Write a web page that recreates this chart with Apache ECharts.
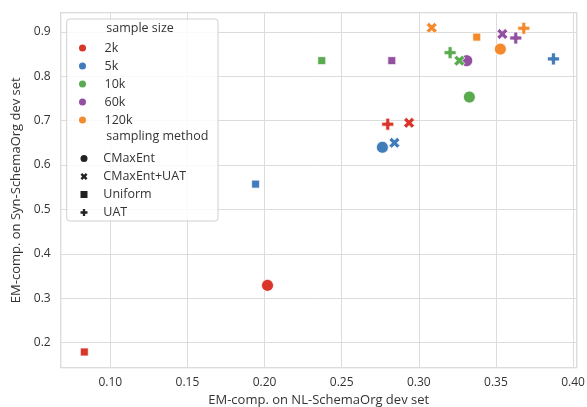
<!DOCTYPE html>
<html><head><meta charset="utf-8">
<script src="https://cdn.jsdelivr.net/npm/echarts@6/dist/echarts.min.js"></script>
<style>html,body{margin:0;padding:0;background:#fff}#c{width:587px;height:407px}</style>
</head><body><div id="c"></div>
<script>
const sampleSizes = ['2k', '5k', '10k', '60k', '120k'];
const sizeColors = ['#d9352b', '#3f7cb9', '#5aaa4f', '#9350a1', '#f58a2c'];
const methods = ['CMaxEnt', 'CMaxEnt+UAT', 'Uniform', 'UAT'];
// values ordered as methods: CMaxEnt, CMaxEnt+UAT, Uniform, UAT
const x2k = [0.2019, 0.2937, 0.0831, 0.2799];
const y2k = [0.329, 0.695, 0.179, 0.692];
const x5k = [0.2764, 0.2842, 0.1942, 0.3873];
const y5k = [0.640, 0.650, 0.557, 0.839];
const x10k = [0.3328, 0.3263, 0.2371, 0.3203];
const y10k = [0.753, 0.835, 0.835, 0.853];
const x60k = [0.3311, 0.3542, 0.2825, 0.3629];
const y60k = [0.835, 0.895, 0.835, 0.886];
const x120k = [0.3529, 0.3084, 0.3376, 0.3681];
const y120k = [0.861, 0.909, 0.888, 0.908];
const xTicks = [0.10, 0.15, 0.20, 0.25, 0.30, 0.35, 0.40];
const yTicks = [0.2, 0.3, 0.4, 0.5, 0.6, 0.7, 0.8, 0.9];
const xTitle = 'EM-comp. on NL-SchemaOrg dev set';
const yTitle = 'EM-comp. on Syn-SchemaOrg dev set';

const xs = [x2k, x5k, x10k, x60k, x120k];
const ys = [y2k, y5k, y10k, y60k, y120k];
const plusPath = 'path://M-1,-3L1,-3L1,-1L3,-1L3,1L1,1L1,3L-1,3L-1,1L-3,1L-3,-1L-1,-1Z';
const xPath = 'path://M2,-4L4,-2L2,0L4,2L2,4L0,2L-2,4L-4,2L-2,0L-4,-2L-2,-4L0,-2Z';
const sqPath = 'path://M-1,-1L1,-1L1,1L-1,1Z';
const methodSymbols = ['circle', xPath, sqPath, plusPath];
const methodSizes = [12, 11, 8, 12];
const FONT = 'Open Sans';

const series = [];
sampleSizes.forEach((s, i) => {
  series.push({ name: s, type: 'scatter', data: [], symbol: 'circle', itemStyle: { color: sizeColors[i], opacity: 1 } });
});
methods.forEach((m, j) => {
  series.push({
    name: m, type: 'scatter', symbol: methodSymbols[j], symbolSize: methodSizes[j], symbolKeepAspect: true,
    itemStyle: { color: '#222', borderColor: '#fff', borderWidth: 0.8, opacity: 1 },
    emphasis: { disabled: true },
    data: sampleSizes.map((s, i) => ({ value: [xs[i][j], ys[i][j]], itemStyle: { color: sizeColors[i], opacity: 1 } }))
  });
});

const legendText = { fontSize: 12.5, lineHeight: 18, color: '#333', fontFamily: FONT };
const chart = echarts.init(document.getElementById('c'));
chart.setOption({
  animation: false,
  backgroundColor: '#fff',
  grid: { left: 60.7, right: 10.3, top: 12.7, bottom: 39.3, outerBoundsMode: 'none', containLabel: false,
          show: true, borderColor: '#d0d0d0', borderWidth: 1.2 },
  xAxis: {
    type: 'value', min: 0.0678, max: 0.4024, splitNumber: 7,
    name: xTitle, nameLocation: 'middle', nameGap: 25,
    nameTextStyle: { fontSize: 13, color: '#333', fontFamily: FONT },
    axisLine: { show: false }, axisTick: { show: false },
    axisLabel: {
      showMinLabel: false, showMaxLabel: false, margin: 9, fontSize: 12, color: '#333', fontFamily: FONT,
      formatter: v => { const t = xTicks.find(k => Math.abs(k - v) < 1e-6); return t === undefined ? '' : t.toFixed(2); }
    },
    splitLine: { lineStyle: { color: '#dcdcdc', width: 1 } }
  },
  yAxis: {
    type: 'value', min: 0.1436, max: 0.943, splitNumber: 8,
    name: yTitle, nameLocation: 'middle', nameGap: 37,
    nameTextStyle: { fontSize: 13, color: '#333', fontFamily: FONT },
    axisLine: { show: false }, axisTick: { show: false },
    axisLabel: {
      showMinLabel: false, showMaxLabel: false, margin: 10, fontSize: 12, color: '#333', fontFamily: FONT,
      formatter: v => { const t = yTicks.find(k => Math.abs(k - v) < 1e-6); return t === undefined ? '' : t.toFixed(1); }
    },
    splitLine: { lineStyle: { color: '#dcdcdc', width: 1 } }
  },
  legend: [
    { data: sampleSizes, orient: 'vertical', left: 79, top: 39, padding: 0, itemWidth: 34, itemHeight: 7, itemGap: 0,
      selectedMode: false, itemStyle: { borderWidth: 0 }, textStyle: legendText, z: 10 },
    { data: methods, orient: 'vertical', left: 80.5, top: 149.5, padding: 0, itemWidth: 28.6, itemHeight: 7, itemGap: 0,
      selectedMode: false, itemStyle: { borderWidth: 0 }, textStyle: legendText, z: 10 }
  ],
  graphic: [
    { type: 'rect', z: 5, shape: { x: 66.7, y: 19, width: 151.3, height: 202, r: 3 },
      style: { fill: 'rgba(255,255,255,0.85)', stroke: '#d0d0d0', lineWidth: 1 } },
    { type: 'text', z: 6, x: 106.3, y: 28.3, style: { text: 'sample size', fontSize: 12.5, fill: '#333', fontFamily: FONT, verticalAlign: 'middle' } },
    { type: 'text', z: 6, x: 106.3, y: 136.7, style: { text: 'sampling method', fontSize: 12.5, fill: '#333', fontFamily: FONT, verticalAlign: 'middle' } }
  ],
  series: series
});
</script></body></html>
